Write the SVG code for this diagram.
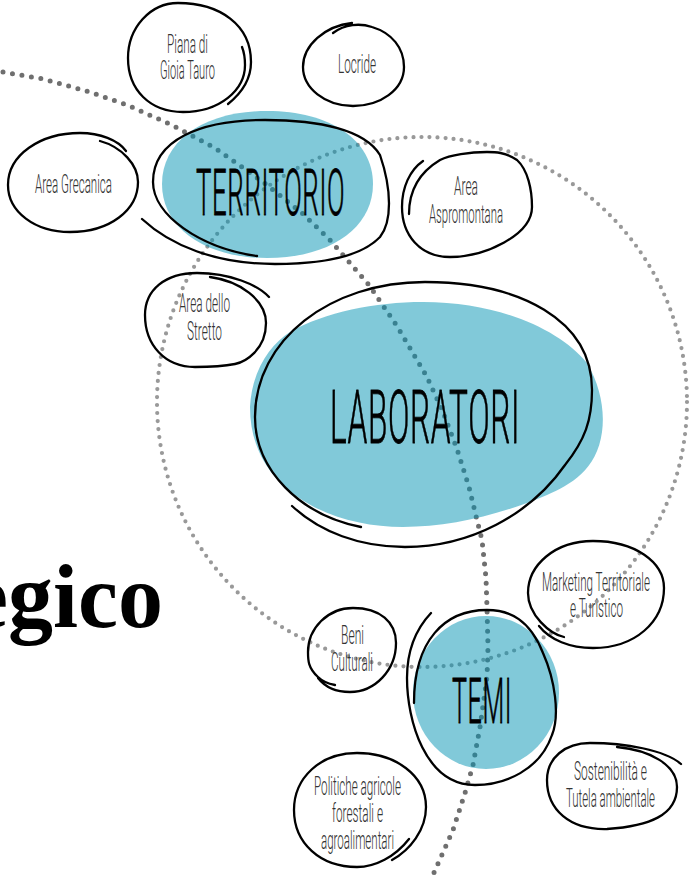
<svg xmlns="http://www.w3.org/2000/svg" width="699" height="877" viewBox="0 0 699 877">
<style>
.bg{fill:#fff}
.dark{fill:none;stroke:#6f6f6f;stroke-width:5;stroke-linecap:round;stroke-dasharray:0 9.6}
.light{fill:none;stroke:#999;stroke-width:4.2;stroke-linecap:round;stroke-dasharray:0 8.05}
.blob{fill:#0393b3;fill-opacity:.5}
.o{fill:none;stroke:#000;stroke-width:2.3;stroke-linecap:round}
.t{font-family:"Roboto","Liberation Sans",sans-serif;font-weight:300;font-size:25px;fill:#333;transform:translateY(1px)}
.b{font-family:"Roboto","Liberation Sans",sans-serif;font-weight:300;fill:#000;stroke:#000;stroke-width:.8;letter-spacing:1.5px}
.h{font-family:"Liberation Serif",serif;font-weight:700;font-size:90px;fill:#000}
</style>
<rect class="bg" width="699" height="877"/>
<text class="h" x="-32" y="627">egico</text>
<g id="connectors">
<path class="dark" d="M3 72L43 79L90 92L127 105L172 125L215 148L263 182L302 213L330 240L350 263L369 285L397 326L427 377L443 412L457 449L469 487L476 516L482 540L486 578L487 608L488 647L487 677L480 727L473 765L465 793L453 830L433 875"/>
<circle class="light" cx="422" cy="402" r="265"/>
</g>
<g id="territorio">
<path class="blob" d="M162 184C162 140 205 111 267 111C330 111 373 140 373 184C373 228 330 258 267 258C205 258 162 228 162 184Z"/>
<path class="o" d="M142 219C170 245 215 264 275 264C320 264 360 258 380 237C392 222 392 190 380 155C365 130 320 120 265 120C200 120 153 140 153 182C153 215 200 248 257 256"/>
<text class="b" font-size="64" x="196" y="215" textLength="149" lengthAdjust="spacingAndGlyphs">TERRITORIO</text>
</g>
<g id="laboratori">
<path class="blob" d="M250 407C252 370 270 345 290 332C325 312 375 302 423 302C500 302 560 330 587 363C600 385 605 410 602 432C597 470 570 485 547 495C500 515 450 527 403 527C330 527 250 490 250 407Z"/>
<path class="o" d="M292 506C320 532 360 547 405 547C470 547 530 515 565 465C585 440 592 420 592 390C592 320 520 282 425 282C330 282 255 340 255 417C255 470 300 515 361 527"/>
<text class="b" font-size="74" x="330" y="443" textLength="190" lengthAdjust="spacingAndGlyphs">LABORATORI</text>
</g>
<g id="temi">
<ellipse class="blob" cx="486" cy="692.5" rx="73" ry="76.5"/>
<path class="o" d="M431 613C415 630 407 650 407 678C407 720 425 785 475 785C505 785 540 770 552 735C560 715 555 680 543 653C530 620 510 610 487 610C445 610 414 640 414 703"/>
<text class="b" font-size="63" x="452" y="723" textLength="60" lengthAdjust="spacingAndGlyphs">TEMI</text>
</g>
<g id="piana">
<path class="o" d="M228 104C243 92 251 78 251 62C251 25 220 3 178 3C150 3 128 28 128 58C128 90 150 112 183 112C220 112 245 90 245 65C245 58 244 52 242 47"/>
<text class="t" x="167" y="52" textLength="41" lengthAdjust="spacingAndGlyphs">Piana di</text>
<text class="t" x="160" y="78" textLength="55" lengthAdjust="spacingAndGlyphs">Gioia Tauro</text>
</g>
<g id="locride">
<path class="o" d="M333 33C345 24 360 23 372 27C392 33 404 48 404 67C404 90 380 106 353 106C325 106 303 88 303 67C303 45 325 26 352 23"/>
<text class="t" x="338" y="72" textLength="38" lengthAdjust="spacingAndGlyphs">Locride</text>
</g>
<g id="grecanica">
<path class="o" d="M100 141C122 147 138 165 138 182C138 210 110 232 70 232C35 232 8 212 8 185C8 155 40 133 80 133C100 133 118 140 126 151"/>
<text class="t" x="35" y="192" textLength="77" lengthAdjust="spacingAndGlyphs">Area Grecanica</text>
</g>
<g id="aspromontana">
<path class="o" d="M423 161C410 170 402 187 402 207C402 235 420 257 450 257C485 257 532 235 532 207C532 190 528 170 517 160C505 152 495 152 487 152C470 152 450 155 440 160C420 172 409 190 409 214"/>
<text class="t" x="454" y="194" textLength="24" lengthAdjust="spacingAndGlyphs">Area</text>
<text class="t" x="429" y="222" textLength="74" lengthAdjust="spacingAndGlyphs">Aspromontana</text>
</g>
<g id="stretto">
<path class="o" d="M210 277C240 281 266 300 266 323C266 350 245 362 235 364C220 367 205 367 195 367C165 367 145 345 145 315C145 290 165 273 197 273C230 273 258 285 269 297"/>
<text class="t" x="179" y="311" textLength="51" lengthAdjust="spacingAndGlyphs">Area dello</text>
<text class="t" x="187" y="339" textLength="35" lengthAdjust="spacingAndGlyphs">Stretto</text>
</g>
<g id="beni">
<path class="o" d="M335 685C325 683 321 680 318 677C308 668 308 660 308 652C308 628 328 608 353 608C380 608 396 622 396 643C396 670 375 692 350 692C335 692 325 687 318 678"/>
<text class="t" x="341" y="643" textLength="23" lengthAdjust="spacingAndGlyphs">Beni</text>
<text class="t" x="331" y="670" textLength="42" lengthAdjust="spacingAndGlyphs">Culturali</text>
</g>
<g id="marketing">
<path class="o" d="M564 637C550 634 528 615 528 593C528 565 555 541 593 541C635 541 664 562 664 588C664 622 635 648 593 648C570 648 550 640 539 626"/>
<text class="t" x="542" y="590" textLength="108" lengthAdjust="spacingAndGlyphs">Marketing Territoriale</text>
<text class="t" x="570" y="616" textLength="53" lengthAdjust="spacingAndGlyphs">e Turistico</text>
</g>
<g id="sostenibilita">
<path class="o" d="M681 764C665 750 625 743 590 743C565 743 547 758 547 780C547 810 570 830 607 829C650 826 677 815 677 787C677 765 650 750 617 747"/>
<text class="t" x="574" y="779" textLength="73" lengthAdjust="spacingAndGlyphs">Sostenibilità e</text>
<text class="t" x="566" y="806" textLength="89" lengthAdjust="spacingAndGlyphs">Tutela ambientale</text>
</g>
<g id="politiche">
<path class="o" d="M392 860C410 850 426 830 426 807C426 775 395 753 357 753C320 753 294 778 294 810C294 843 320 867 357 867C375 867 395 857 409 839"/>
<text class="t" x="314" y="794" textLength="87" lengthAdjust="spacingAndGlyphs">Politiche agricole</text>
<text class="t" x="332" y="821" textLength="51" lengthAdjust="spacingAndGlyphs">forestali e</text>
<text class="t" x="321" y="848" textLength="73" lengthAdjust="spacingAndGlyphs">agroalimentari</text>
</g>
</svg>
